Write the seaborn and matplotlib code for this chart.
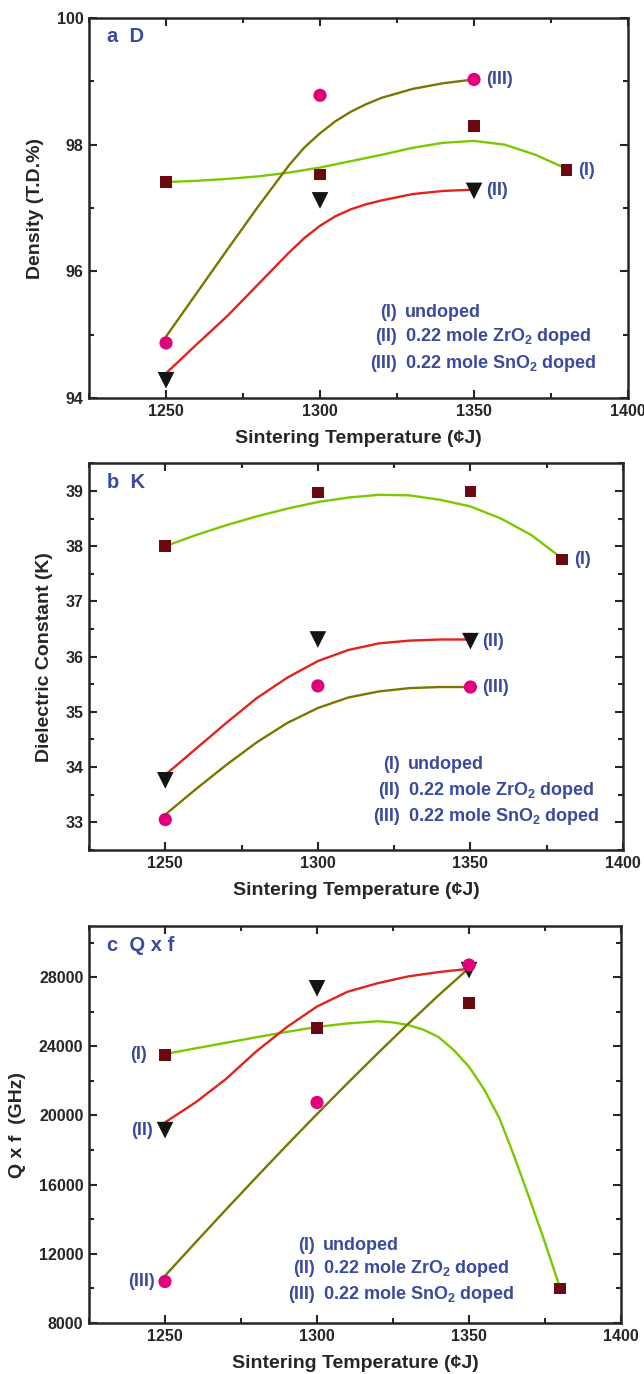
import numpy as np
import pandas as pd
import matplotlib
matplotlib.use("Agg")
import matplotlib.pyplot as plt
from matplotlib.ticker import MultipleLocator, FormatStrFormatter
import seaborn as sns

# measured points
temps4 = [1250, 1300, 1350, 1380]
temps3 = [1250, 1300, 1350]

density_I = [97.41, 97.53, 98.29, 97.60]
density_II = [94.28, 97.12, 97.27]
density_III = [94.87, 98.78, 99.03]

k_I = [38.00, 38.97, 38.99, 37.76]
k_II = [33.76, 36.31, 36.28]
k_III = [33.05, 35.47, 35.45]

qf_I = [23500, 25050, 26500, 10000]
qf_II = [19150, 27350, 28400]
qf_III = [10400, 20750, 28700]

# guide curves
curve_x4 = [1250, 1260, 1270, 1280, 1290, 1300, 1310, 1320, 1330, 1340, 1350, 1360, 1370, 1380]
curve_x3 = [1250, 1260, 1270, 1280, 1290, 1300, 1310, 1320, 1330, 1340, 1350]
curve_x3f = [1250, 1260, 1270, 1280, 1290, 1295, 1300, 1305, 1310, 1315, 1320, 1330, 1340, 1350]
curve_xc = [1250, 1260, 1270, 1280, 1290, 1300, 1310, 1320, 1325, 1330, 1335, 1340,
            1345, 1350, 1355, 1360, 1365, 1370, 1375, 1380]

fit_density_I = [97.41, 97.43, 97.46, 97.50, 97.56, 97.64, 97.74, 97.84, 97.95, 98.03,
                 98.06, 98.00, 97.84, 97.62]
fit_density_II = [94.39, 94.85, 95.30, 95.80, 96.30, 96.53, 96.72, 96.87, 96.98, 97.06,
                  97.12, 97.22, 97.27, 97.29]
fit_density_III = [94.97, 95.66, 96.35, 97.03, 97.68, 97.96, 98.18, 98.37, 98.52, 98.64,
                   98.74, 98.88, 98.97, 99.03]

fit_k_I = [38.00, 38.20, 38.38, 38.54, 38.68, 38.80, 38.88, 38.93, 38.92, 38.84,
           38.72, 38.50, 38.20, 37.78]
fit_k_II = [33.86, 34.33, 34.80, 35.25, 35.62, 35.92, 36.12, 36.24, 36.29, 36.31, 36.31]
fit_k_III = [33.14, 33.60, 34.04, 34.45, 34.80, 35.07, 35.26, 35.37, 35.43, 35.45, 35.45]

fit_qf_I = [23550, 23880, 24200, 24520, 24830, 25120, 25320, 25450, 25380, 25230, 24960,
            24530, 23780, 22820, 21500, 19840, 17580, 15150, 12650, 10000]
fit_qf_II = [19600, 20750, 22100, 23700, 25100, 26300, 27150, 27650, 28040, 28290, 28480]
fit_qf_III = [10730, 12650, 14550, 16420, 18270, 20080, 21860, 23600, 25300, 26950, 28520]

series_names = ["(I)", "(II)", "(III)"]
legend_desc = ["undoped", "0.22 mole ZrO$_2$ doped", "0.22 mole SnO$_2$ doped"]

sns.set_style("ticks")
plt.rcParams["font.family"] = ["Liberation Sans", "DejaVu Sans"]
plt.rcParams["font.weight"] = "bold"
plt.rcParams["mathtext.default"] = "regular"

col_green = "#7CC800"
col_red = "#E3231B"
col_olive = "#7A7600"
col_square = "#6C0812"
col_tri = "#141414"
col_circ = "#E2007A"
col_text = "#3A4A9E"

fig = plt.figure(figsize=(6.44, 13.74), dpi=100)
ax_a = fig.add_axes([0.1382, 0.7103, 0.8370, 0.2766])
ax_b = fig.add_axes([0.1382, 0.3814, 0.8292, 0.2814])
ax_c = fig.add_axes([0.1382, 0.0371, 0.8261, 0.2889])


def draw_panel(ax, pts, fits, ylim, ymaj, ymin, ylabel, tag):
    for (fx, fy, col) in fits:
        sns.lineplot(x=fx, y=fy, ax=ax, color=col, lw=1.7, sort=False)
    markers = [("s", col_square, 8.5), ("v", col_tri, 12), ("o", col_circ, 9.5)]
    for (px, py), (mk, mc, ms) in zip(pts, markers):
        df = pd.DataFrame({"T": px, "v": py})
        sns.scatterplot(data=df, x="T", y="v", ax=ax, marker=mk, color=mc,
                        s=ms ** 2, edgecolor="none", zorder=5)
    ax.set_xlim(1225, 1400)
    ax.set_ylim(*ylim)
    ax.xaxis.set_major_locator(MultipleLocator(50))
    ax.xaxis.set_minor_locator(MultipleLocator(25))
    ax.yaxis.set_major_locator(MultipleLocator(ymaj))
    ax.yaxis.set_minor_locator(MultipleLocator(ymin))
    ax.tick_params(which="both", direction="in", top=True, right=True, width=1.5,
                   labelsize=11.5, pad=4)
    ax.tick_params(which="major", length=6)
    ax.tick_params(which="minor", length=3.5)
    for sp in ax.spines.values():
        sp.set_linewidth(1.8)
    ax.set_xlabel("Sintering Temperature (\u00a2J)", fontsize=14, fontweight="bold", labelpad=8)
    ax.set_ylabel(ylabel, fontsize=14, fontweight="bold", labelpad=9)
    ax.text(0.033, 0.951, tag, transform=ax.transAxes, color=col_text, fontsize=14.5,
            fontweight="bold", va="center", ha="left")


draw_panel(ax_a,
           [(temps4, density_I), (temps3, density_II), (temps3, density_III)],
           [(curve_x4, fit_density_I, col_green), (curve_x3f, fit_density_II, col_red),
            (curve_x3f, fit_density_III, col_olive)],
           (94, 100), 2, 1, "Density (T.D.%)", "a  D")
draw_panel(ax_b,
           [(temps4, k_I), (temps3, k_II), (temps3, k_III)],
           [(curve_x4, fit_k_I, col_green), (curve_x3, fit_k_II, col_red),
            (curve_x3, fit_k_III, col_olive)],
           (32.5, 39.5), 1, 0.5, "Dielectric Constant (K)", "b  K")
draw_panel(ax_c,
           [(temps4, qf_I), (temps3, qf_II), (temps3, qf_III)],
           [(curve_xc, fit_qf_I, col_green), (curve_x3, fit_qf_II, col_red),
            (curve_x3, fit_qf_III, col_olive)],
           (8000, 30950), 4000, 2000, "Q x f  (GHz)", "c  Q x f")
ax_c.yaxis.set_major_formatter(FormatStrFormatter("%d"))


def point_label(ax, name, x, y, dx):
    ax.annotate(name, xy=(x, y), xytext=(dx, 0), textcoords="offset points",
                ha="left" if dx > 0 else "right", va="center", color=col_text,
                fontsize=13, fontweight="bold")


# series labels next to the end points
point_label(ax_a, "(III)", temps3[-1], density_III[-1], 8.5)
point_label(ax_a, "(II)", temps3[-1], density_II[-1], 8.5)
point_label(ax_a, "(I)", temps4[-1], density_I[-1], 8.5)
point_label(ax_b, "(I)", temps4[-1], k_I[-1], 8.5)
point_label(ax_b, "(II)", temps3[-1], k_II[-1], 8.5)
point_label(ax_b, "(III)", temps3[-1], k_III[-1], 8.5)
point_label(ax_c, "(I)", temps4[0], qf_I[0], -13)
point_label(ax_c, "(II)", temps3[0], qf_II[0], -9)
point_label(ax_c, "(III)", temps3[0], qf_III[0], -7)

# key text blocks
key_pos = {
    "a": (ax_a, 0.571, 0.586, [0.224, 0.161, 0.092]),
    "b": (ax_b, 0.582, 0.598, [0.220, 0.155, 0.086]),
    "c": (ax_c, 0.425, 0.439, [0.196, 0.138, 0.073]),
}
for ax, xr, xl, ys in key_pos.values():
    for name, desc, yy in zip(series_names, legend_desc, ys):
        ax.text(xr, yy, name, transform=ax.transAxes, ha="right", va="center",
                color=col_text, fontsize=13, fontweight="bold")
        ax.text(xl, yy, desc, transform=ax.transAxes, ha="left", va="center",
                color=col_text, fontsize=13, fontweight="bold")

fig.savefig("out.png", dpi=100)
